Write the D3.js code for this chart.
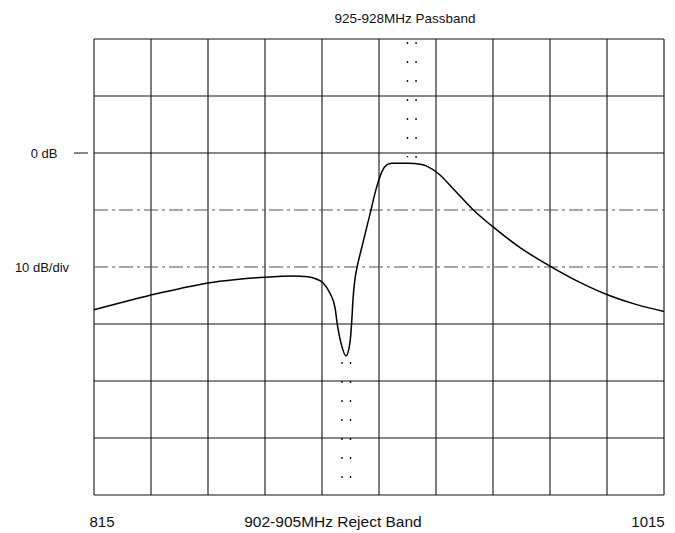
<!DOCTYPE html>
<html>
<head>
<meta charset="utf-8">
<script src="https://cdn.jsdelivr.net/npm/d3@7/dist/d3.min.js"></script>
<style>
  html, body { margin: 0; padding: 0; background: #fff; }
  svg { display: block; }
  text { font-family: "Liberation Sans", Arial, sans-serif; fill: #111; }
</style>
</head>
<body>
<svg id="chart" width="675" height="533"></svg>
<script>
// ---- data ----
const freqMHz = [815, 825, 835, 845, 855, 865, 875, 885, 890, 893, 895.4, 897.8, 899.6, 900.3, 901.9, 903.4, 904.8, 905.4, 905.9, 906.6, 907.5, 909.0, 911.8, 914.0, 916.0, 917.7, 919.5, 925, 930, 931.7, 935.8, 941.1, 948.1, 956.1, 964.5, 975.9, 985.5, 995.8, 1005.4, 1015];
const responseDb = [-27.5, -26.2, -24.9, -23.8, -22.8, -22.2, -21.8, -21.6, -21.7, -22.1, -22.8, -24.6, -27.2, -29.8, -33.8, -35.6, -33.3, -29.8, -25.5, -22.0, -19.6, -16.5, -10.8, -6.3, -3.3, -2.1, -1.8, -1.8, -2.0, -2.3, -3.6, -6.3, -10.0, -13.4, -16.6, -20.1, -22.7, -25.0, -26.6, -27.8];
const passband = [925, 928];
const rejectBand = [902, 905];
const xDomain = [815, 1015];
const yDomain = [20, -60];
const xTicks = [815, 835, 855, 875, 895, 915, 935, 955, 975, 995, 1015];
const yTicks = [20, 10, 0, -10, -20, -30, -40, -50, -60];
const dashedRows = [-10, -20];
const titleText = "925-928MHz Passband";
const bottomText = "902-905MHz Reject Band";
const leftLabel = "815";
const rightLabel = "1015";
const zeroLabel = "0 dB";
const scaleLabel = "10 dB/div";

// ---- layout ----
const svg = d3.select("#chart");
const x = d3.scaleLinear().domain(xDomain).range([94, 664]);
const y = d3.scaleLinear().domain(yDomain).range([39, 495]);

// grid
const g = svg.append("g");
g.selectAll(".vg").data(xTicks).join("line")
  .attr("x1", d => x(d)).attr("x2", d => x(d))
  .attr("y1", y(yDomain[0])).attr("y2", y(yDomain[1]))
  .attr("stroke", "#111").attr("stroke-width", 1.1);
g.selectAll(".hg").data(yTicks).join("line")
  .attr("x1", x(xDomain[0])).attr("x2", x(xDomain[1]))
  .attr("y1", d => y(d)).attr("y2", d => y(d))
  .attr("stroke", d => dashedRows.includes(d) ? "#555" : "#111")
  .attr("stroke-width", 1.1)
  .attr("stroke-dasharray", d => dashedRows.includes(d) ? "14,4,3,4" : null);

// dotted band markers
const curveY = f => {
  const i = d3.bisector(d => d).right(freqMHz, f);
  const a = Math.max(0, i - 1), b = Math.min(freqMHz.length - 1, i);
  if (a === b) return responseDb[a];
  const t = (f - freqMHz[a]) / (freqMHz[b] - freqMHz[a]);
  return responseDb[a] + t * (responseDb[b] - responseDb[a]);
};
const minDb = d3.min(responseDb);
svg.selectAll(".pb").data(passband).join("line")
  .attr("x1", d => x(d)).attr("x2", d => x(d))
  .attr("y1", y(yDomain[0]) + 3).attr("y2", d => y(curveY(d)) - 6)
  .attr("stroke", "#111").attr("stroke-width", 1.4)
  .attr("stroke-dasharray", "2,17");
svg.selectAll(".rb").data(rejectBand).join("line")
  .attr("x1", d => x(d)).attr("x2", d => x(d))
  .attr("y1", y(minDb) + 6).attr("y2", y(yDomain[1]) - 3)
  .attr("stroke", "#111").attr("stroke-width", 1.4)
  .attr("stroke-dasharray", "2,17");

// response curve
const pts = freqMHz.map((f, i) => [f, responseDb[i]]);
svg.append("path")
  .datum(pts)
  .attr("fill", "none")
  .attr("stroke", "#000")
  .attr("stroke-width", 1.5)
  .attr("d", d3.line().x(d => x(d[0])).y(d => y(d[1])).curve(d3.curveMonotoneX));

// labels
svg.append("text").attr("x", 405).attr("y", 23).attr("text-anchor", "middle")
  .attr("font-size", 13.5).text(titleText);
svg.append("text").attr("x", 333).attr("y", 527).attr("text-anchor", "middle")
  .attr("font-size", 15.5).text(bottomText);
svg.append("text").attr("x", 102).attr("y", 527).attr("text-anchor", "middle")
  .attr("font-size", 15).text(leftLabel);
svg.append("text").attr("x", 648).attr("y", 527).attr("text-anchor", "middle")
  .attr("font-size", 15).text(rightLabel);
svg.append("text").attr("x", 44).attr("y", y(0) + 5).attr("text-anchor", "middle")
  .attr("font-size", 13).text(zeroLabel);
svg.append("line").attr("x1", 74).attr("x2", 88).attr("y1", y(0)).attr("y2", y(0))
  .attr("stroke", "#111").attr("stroke-width", 1);
svg.append("text").attr("x", 42).attr("y", y(-20) + 5).attr("text-anchor", "middle")
  .attr("font-size", 13).text(scaleLabel);
</script>
</body>
</html>
